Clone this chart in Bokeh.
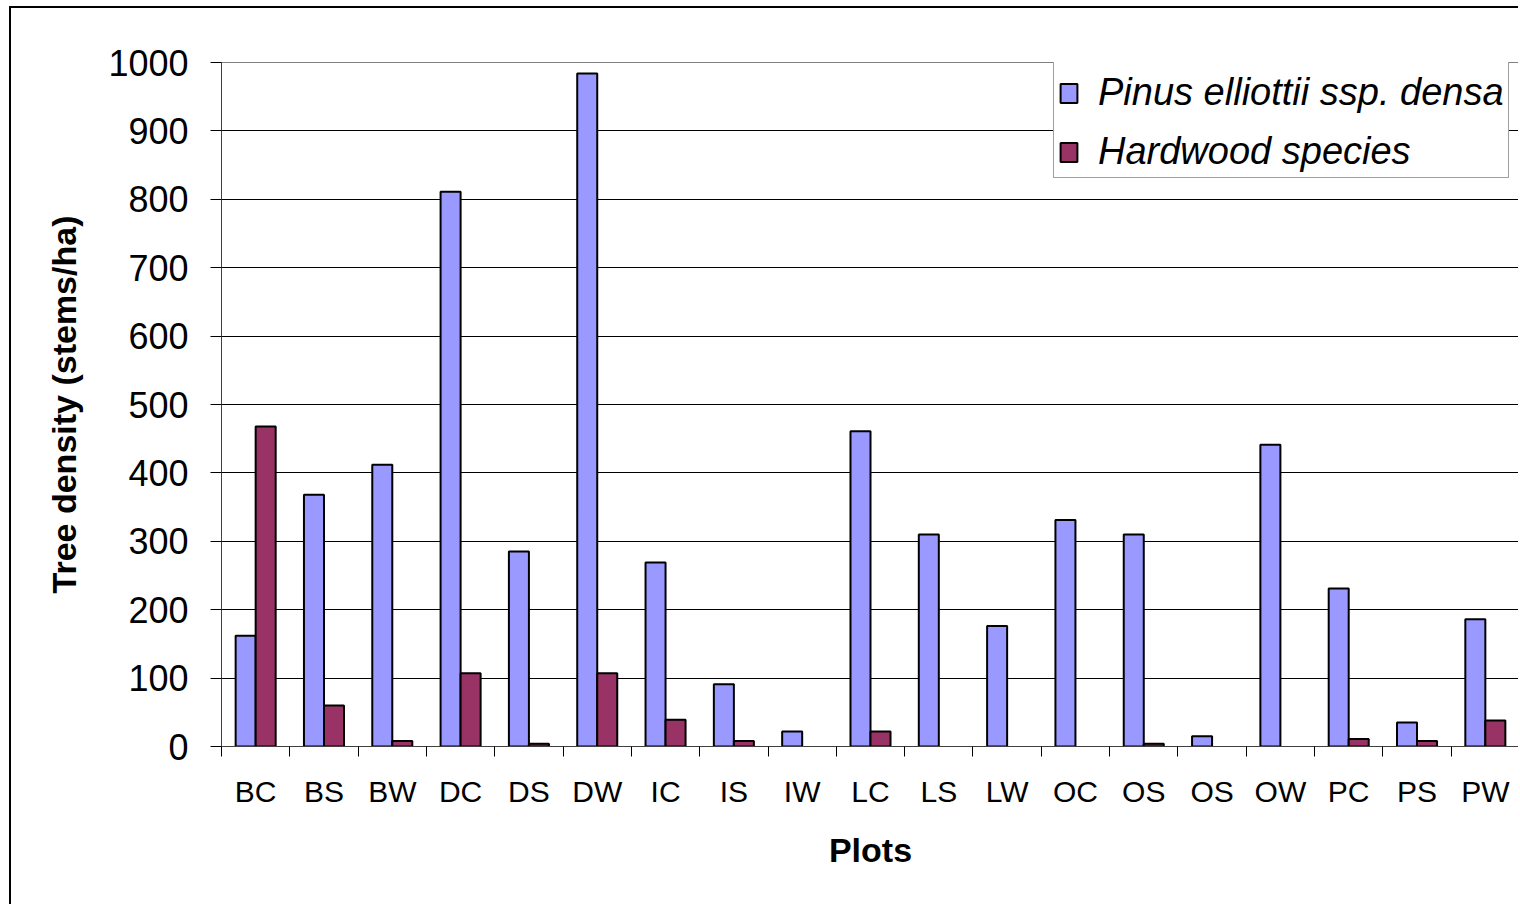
from bokeh.plotting import figure
from bokeh.models import Range1d, FixedTicker, ColumnDataSource, Legend, LegendItem
from bokeh.embed import file_html
from bokeh.resources import INLINE

plots = ["BC", "BS", "BW", "DC", "DS", "DW", "IC", "IS", "IW", "LC",
         "LS", "LW", "OC", "OS", "OS", "OW", "PC", "PS", "PW"]
pinus = [162, 368, 412, 811, 285, 984, 269, 91, 22, 461,
         310, 176, 331, 310, 15, 441, 231, 35, 186]
hardwood = [468, 60, 8, 107, 4, 107, 39, 8, 0, 22,
            0, 0, 0, 4, 0, 0, 11, 8, 38]
y_ticks = list(range(0, 1001, 100))

FONT = "Liberation Sans"
BAR_W = 0.293

idx = list(range(len(plots)))
src_p = ColumnDataSource(dict(x=[i - BAR_W / 2 for i in idx], top=pinus))
hx = [i + BAR_W / 2 for i, v in zip(idx, hardwood) if v > 0]
ht = [v for v in hardwood if v > 0]
src_h = ColumnDataSource(dict(x=hx, top=ht))

p = figure(width=1509, height=898,
           x_range=Range1d(-0.5, len(plots) - 0.5), y_range=Range1d(0, 1000),
           output_backend="svg", toolbar_location=None,
           min_border_left=210, min_border_top=54, min_border_right=1,
           min_border_bottom=160)
p.styles = {"margin-left": "9px", "margin-top": "6px",
            "border-left": "2px solid black", "border-top": "2px solid black"}
p.background_fill_color = "white"
p.border_fill_color = "white"
p.outline_line_color = "#808080"
p.outline_line_width = 1

r1 = p.vbar(x="x", top="top", width=BAR_W, bottom=0, source=src_p,
            fill_color="#9999FF", line_color="black", line_width=2)
r2 = p.vbar(x="x", top="top", width=BAR_W, bottom=0, source=src_h,
            fill_color="#993366", line_color="black", line_width=2)

# x axis
xa = p.xaxis[0]
xa.ticker = FixedTicker(ticks=idx, minor_ticks=[i - 0.5 for i in range(len(plots) + 1)])
xa.major_label_overrides = {i: n for i, n in enumerate(plots)}
xa.major_tick_line_color = None
xa.major_tick_in = 0
xa.major_tick_out = 0
xa.minor_tick_line_color = "black"
xa.minor_tick_in = 0
xa.minor_tick_out = 10
xa.axis_line_color = "#404040"
xa.major_label_text_font = FONT
xa.major_label_text_font_size = "30px"
xa.major_label_text_color = "black"
xa.major_label_standoff = 18
xa.axis_label = "Plots"
xa.axis_label_text_font = FONT
xa.axis_label_text_font_size = "34px"
xa.axis_label_text_font_style = "bold"
xa.axis_label_text_color = "black"
xa.axis_label_standoff = 20

# y axis
ya = p.yaxis[0]
ya.ticker = FixedTicker(ticks=y_ticks)
ya.major_tick_in = 0
ya.major_tick_out = 11
ya.major_tick_line_color = "black"
ya.minor_tick_line_color = None
ya.axis_line_color = "#404040"
ya.major_label_text_font = FONT
ya.major_label_text_font_size = "36px"
ya.major_label_text_color = "black"
ya.major_label_standoff = 22
ya.axis_label = "Tree density (stems/ha)"
ya.axis_label_text_font = FONT
ya.axis_label_text_font_size = "34px"
ya.axis_label_text_font_style = "bold"
ya.axis_label_text_color = "black"
ya.axis_label_standoff = 22

p.xgrid.visible = False
p.ygrid.ticker = FixedTicker(ticks=y_ticks)
p.ygrid.grid_line_color = "black"
p.ygrid.grid_line_width = 1

legend = Legend(items=[LegendItem(label="Pinus elliottii ssp. densa", renderers=[r1]),
                       LegendItem(label="Hardwood species", renderers=[r2])],
                location=(832, 568))
legend.title = " "
legend.title_text_font_size = "1px"
legend.title_standoff = 17
legend.label_text_font = FONT
legend.label_text_font_size = "38px"
legend.label_text_font_style = "italic"
legend.label_text_color = "black"
legend.glyph_width = 21
legend.glyph_height = 24
legend.label_standoff = 19
legend.padding = 4
legend.spacing = 16
legend.border_line_color = "#404040"
legend.border_line_width = 1
legend.background_fill_color = "white"
legend.background_fill_alpha = 1.0
p.add_layout(legend, "center")

open("out.html", "w").write(file_html(p, INLINE))
